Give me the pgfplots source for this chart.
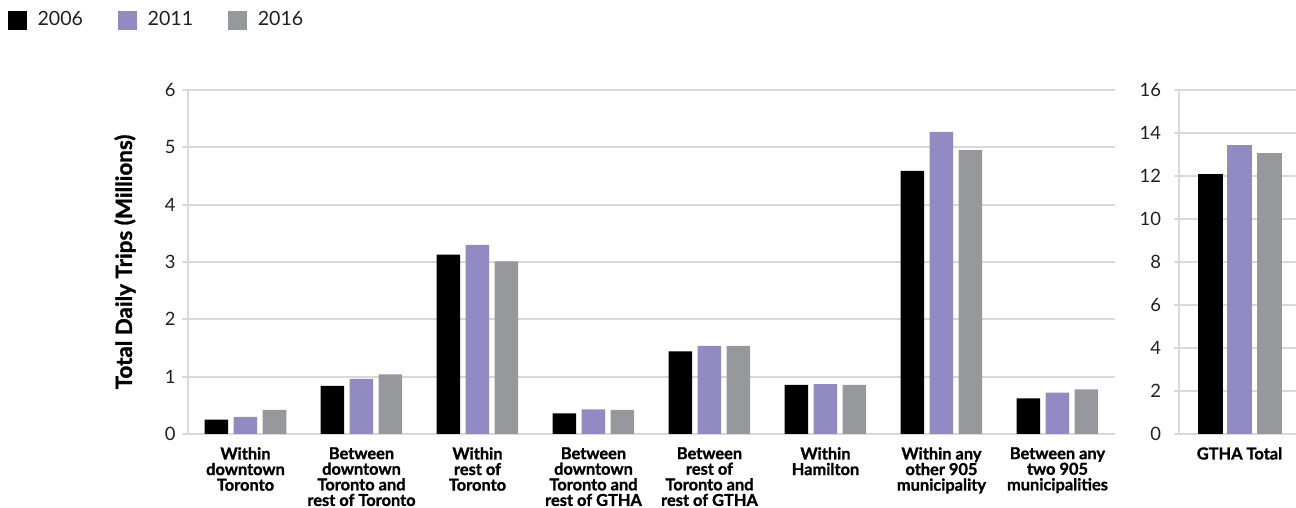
\documentclass[border=0pt]{standalone}
\usepackage{fontspec}
\setmainfont{Lato}
\newfontfamily\heavy[BoldFeatures={FakeBold=1.2}]{Lato}
\usepackage{pgfplots}
\usepackage{pgfplotstable}
\pgfplotsset{compat=1.18}

\definecolor{c06}{HTML}{000000}
\definecolor{c11}{HTML}{918AC3}
\definecolor{c16}{HTML}{97989B}
\definecolor{gridc}{HTML}{D9D9D9}
\definecolor{txt}{HTML}{231F20}

% Daily trips by origin-destination pair (millions)
\pgfplotstableread{
idx y2006 y2011 y2016
0 0.25  0.30  0.42
1 0.84  0.96  1.04
2 3.13  3.30  3.01
3 0.36  0.43  0.42
4 1.44  1.535 1.535
5 0.855 0.87  0.855
6 4.59  5.27  4.95
7 0.62  0.72  0.78
}\regional

% Region-wide total (millions)
\pgfplotstableread{
idx y2006 y2011 y2016
0 12.08 13.43 13.07
}\total

\pgfplotsset{
  tripaxis/.style={
    scale only axis,
    ymin=0,
    axis x line*=bottom,
    axis y line*=left,
    axis line style={gridc, line width=1pt, -},
    ymajorgrids,
    major grid style={gridc, line width=1pt},
    ytick style={gridc, line width=1pt},
    xtick style={draw=none},
    tick align=outside,
    major tick length=2.5pt,
    /pgf/number format/assume math mode=true,
    yticklabel style={font=\fontsize{9.2}{11}\selectfont, text=txt},
    xticklabel style={font=\heavy\bfseries\fontsize{8.2}{7.8}\selectfont, text=black, align=center, anchor=north, yshift=-0.6pt},
    ybar, bar width=11.75pt,
    xtick=data,
  },
}

\begin{document}
\begin{tikzpicture}
\useasboundingbox (0,0) rectangle (648pt,254pt);

\begin{axis}[tripaxis,
  at={(93.75pt,37pt)}, width=464pt, height=172pt,
  xmin=-0.5, xmax=7.5, ymax=6, ytick={0,1,...,6},
  xticklabels={{Within\\downtown\\Toronto},
               {Between\\downtown\\Toronto and\\rest of Toronto},
               {Within\\rest of\\Toronto},
               {Between\\downtown\\Toronto and\\rest of GTHA},
               {Between\\rest of\\Toronto and\\rest of GTHA},
               {Within\\Hamilton},
               {Within any\\other 905\\municipality},
               {Between any\\two 905\\municipalities}},
  ylabel={Total Daily Trips (Millions)},
  ylabel style={at={(axis description cs:-0.0673,0.5)}, anchor=center, rotate=0,
                font=\heavy\bfseries\fontsize{11.2}{12}\selectfont, text=black},
  legend style={at={(axis description cs:-0.1934,1.2035)}, anchor=west,
                draw=none, fill=none, inner sep=0pt, outer sep=0pt,
                legend columns=3, font=\fontsize{9.8}{11}\selectfont, text=txt,
                /tikz/every odd column/.append style={column sep=3.3pt},
                /tikz/every even column/.append style={column sep=15.5pt}},
  legend image code/.code={\fill[#1] (0pt,-4.75pt) rectangle (9.5pt,4.75pt);},
]
\addplot[fill=c06, draw=none, bar shift=-14.5pt] table[x=idx, y=y2006] {\regional};
\addplot[fill=c11, draw=none, bar shift=0pt]     table[x=idx, y=y2011] {\regional};
\addplot[fill=c16, draw=none, bar shift=14.5pt]  table[x=idx, y=y2016] {\regional};
\legend{2006, 2011, 2016}
\end{axis}

\begin{axis}[tripaxis,
  at={(589.5pt,37pt)}, width=58.5pt, height=172pt,
  xmin=-0.5, xmax=0.467, ymax=16, ytick={0,2,...,16},
  bar width=12.5pt,
  yticklabel style={xshift=-3pt},
  xticklabels={GTHA Total},
]
\addplot[fill=c06, draw=none, bar shift=-14.75pt] table[x=idx, y=y2006] {\total};
\addplot[fill=c11, draw=none, bar shift=0pt]      table[x=idx, y=y2011] {\total};
\addplot[fill=c16, draw=none, bar shift=14.75pt]  table[x=idx, y=y2016] {\total};
\end{axis}
\end{tikzpicture}
\end{document}
